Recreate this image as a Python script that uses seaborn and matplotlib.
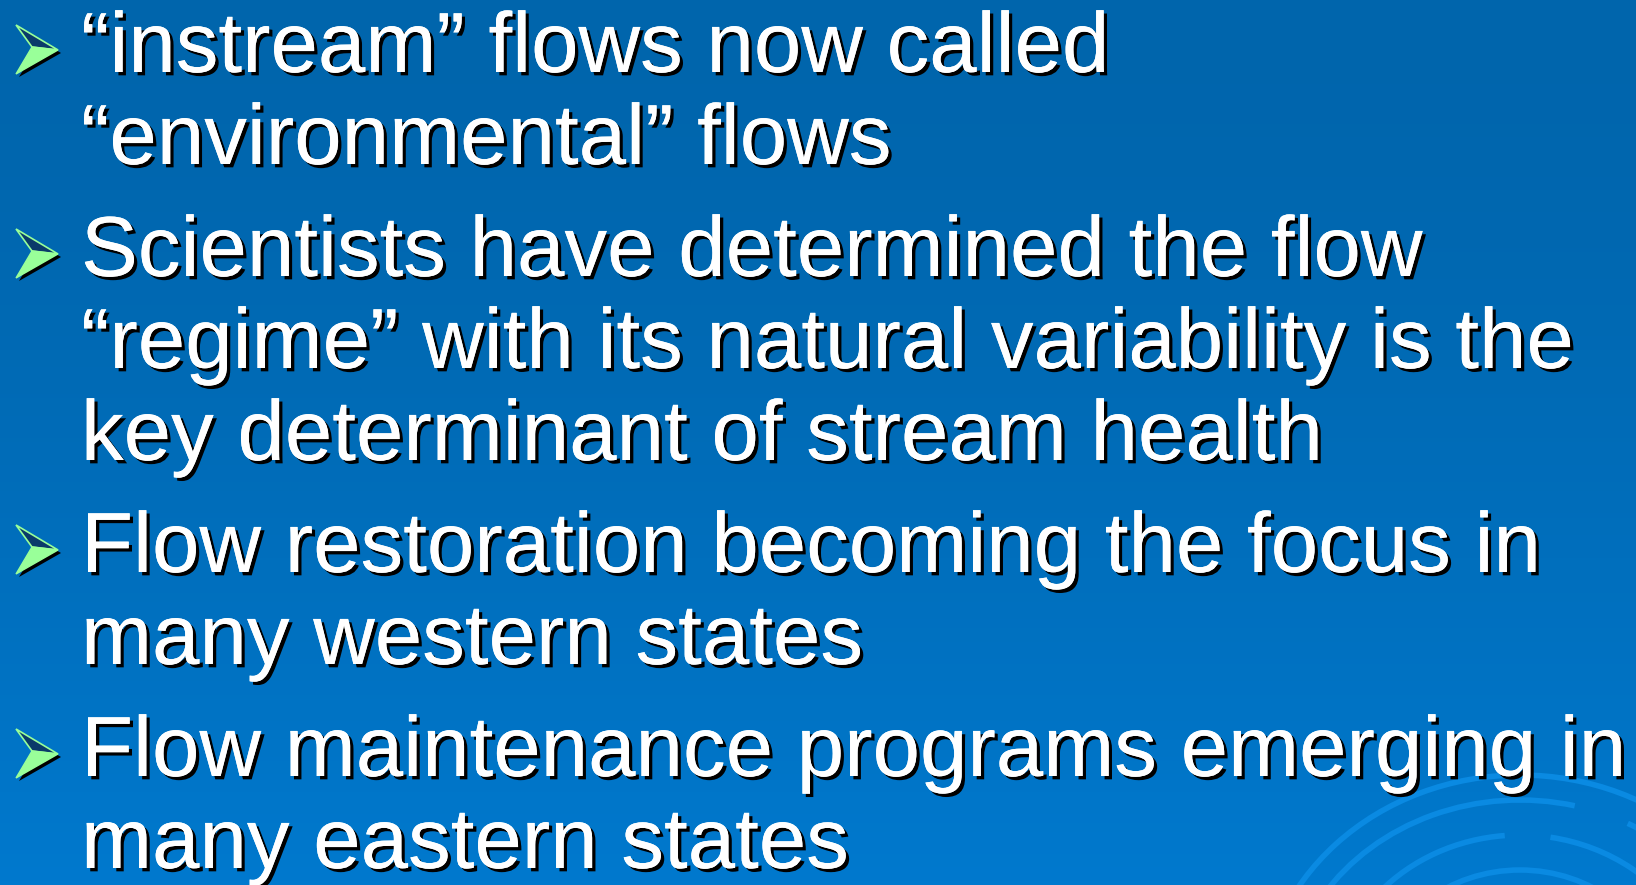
import numpy as np
import seaborn as sns
import matplotlib.pyplot as plt
import matplotlib.patheffects as pe
from matplotlib.patches import Polygon, Arc

sns.set_theme(style='white')
plt.rcParams['font.family'] = ['Liberation Sans', 'DejaVu Sans']

# slide text: one list of lines per bullet
bullets = [
    ['\u201cinstream\u201d flows now called', '\u201cenvironmental\u201d flows'],
    ['Scientists have determined the flow',
     '\u201cregime\u201d with its natural variability is the',
     'key determinant of stream health'],
    ['Flow restoration becoming the focus in', 'many western states'],
    ['Flow maintenance programs emerging in', 'many eastern states'],
]

W, H = 1636, 885
fig = plt.figure(figsize=(W / 100, H / 100), dpi=100)
ax = fig.add_axes([0, 0, 1, 1])
ax.set_xlim(0, W)
ax.set_ylim(H, 0)
ax.axis('off')

# background gradient
top = np.array([0, 101, 172]) / 255
bot = np.array([0, 121, 206]) / 255
t = np.linspace(0, 1, 200)[:, None]
grad = top + (bot - top) * t ** 1.5
ax.imshow(grad[:, None, :].repeat(2, axis=1), extent=[0, W, H, 0], aspect='auto', zorder=0)

# faint swirl decoration bottom right
cx, cy = 1520, 1010
swirl = '#0a8ae2'
for rx, ry, a1, a2 in [(260, 235, 0, 180), (235, 210, 20, 60), (235, 210, 75, 150),
                       (190, 175, 25, 80), (190, 175, 95, 140), (150, 140, 10, 170),
                       (115, 110, 30, 160)]:
    ax.add_patch(Arc((cx, cy), 2 * rx, 2 * ry, theta1=360 - a2, theta2=360 - a1,
                     color=swirl, lw=4, zorder=1))

shadow = [pe.withSimplePatchShadow(offset=(2.4, -2.4), shadow_rgbFace='black', alpha=1.0), pe.Normal()]


def draw_bullet(y):
    # arrowhead: dark upper facet, green lower facet, black shadow
    tl, tip, notch, bl = (16, y - 24), (58, y + 1), (32, y - 2), (16, y + 25)
    sh = [(p[0] + 3, p[1] + 3) for p in (tl, tip, bl, notch)]
    ax.add_patch(Polygon(sh, closed=True, fc='black', ec='none', zorder=2))
    ax.add_patch(Polygon([tl, tip, notch], closed=True, fc='#0a3a6a', ec='#99ff99', lw=1.2, zorder=3))
    ax.add_patch(Polygon([notch, tip, bl], closed=True, fc='#99ff99', ec='#99ff99', lw=1, zorder=3))


y = 72
for lines in bullets:
    draw_bullet(y - 23)
    for line in lines:
        ax.text(81, y, line, fontsize=61.4, color='white', va='baseline', ha='left',
                path_effects=shadow, zorder=4)
        y += 92
    y += 20

fig.savefig('out.png', dpi=100)
